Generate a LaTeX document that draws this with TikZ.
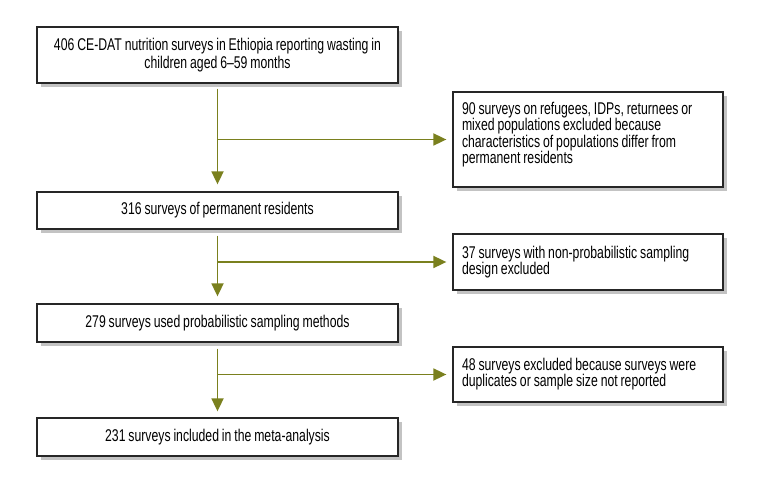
\documentclass[tikz,border=0pt]{standalone}
\usepackage{fontspec}
\setmainfont{Liberation Sans}[FakeStretch=0.72, WordSpace=0.85]
\usetikzlibrary{arrows.meta,shadows}
\definecolor{olive}{RGB}{122,128,30}
\definecolor{shadowgray}{RGB}{195,195,195}
\tikzset{
  box/.style={draw=black!85, line width=1.3pt, fill=white, rectangle, inner sep=0pt,
    drop shadow={shadow xshift=4pt, shadow yshift=-4pt, fill=shadowgray, opacity=1}},
  mainbox/.style={box, minimum width=361pt, align=center, font=\fontsize{17}{17.5}\selectfont},
  sidebox/.style={box, minimum width=270pt, text width=252pt, align=flush left, font=\fontsize{17}{16.2}\selectfont},
  flow/.style={draw=olive, line width=1.8pt},
  arr/.style={flow, -{Triangle[length=13pt,width=12pt]}, color=olive}
}
\begin{document}
\begin{tikzpicture}[x=1pt,y=1pt]
\useasboundingbox (0,0) rectangle (771,-486);
\fill[white] (0,0) rectangle (771,-486);
\node[mainbox, minimum height=56pt] (A) at (217.5,-55) {406 CE-DAT nutrition surveys in Ethiopia reporting wasting in\\children aged 6–59 months};
\node[mainbox, minimum height=37pt] (B) at (217.5,-210.5) {316 surveys of permanent residents};
\node[mainbox, minimum height=38pt] (C) at (217.5,-323) {279 surveys used probabilistic sampling methods};
\node[mainbox, minimum height=38pt] (D) at (217.5,-437) {231 surveys included in the meta-analysis};
\node[sidebox, minimum height=95pt] (E1) at (588,-139.5) {90 surveys on refugees, IDPs, returnees or\\mixed populations excluded because\\characteristics of populations differ from\\permanent residents\\[-3pt]\mbox{}};
\node[sidebox, minimum height=56pt] (E2) at (588,-262) {37 surveys with non-probabilistic sampling\\design excluded};
\node[sidebox, minimum height=55pt] (E3) at (588,-374.5) {48 surveys excluded because surveys were\\duplicates or sample size not reported};
\draw[arr] ([yshift=-5pt]A.south) -- ([yshift=7pt]B.north);
\draw[arr] (A.south |- E1.west) -- ([xshift=-6pt]E1.west);
\draw[arr] ([yshift=-6pt]B.south) -- ([yshift=7pt]C.north);
\draw[arr] (B.south |- E2.west) -- ([xshift=-6pt]E2.west);
\draw[arr] ([yshift=-6pt]C.south) -- ([yshift=6pt]D.north);
\draw[arr] (C.south |- E3.west) -- ([xshift=-6pt]E3.west);
\end{tikzpicture}
\end{document}
